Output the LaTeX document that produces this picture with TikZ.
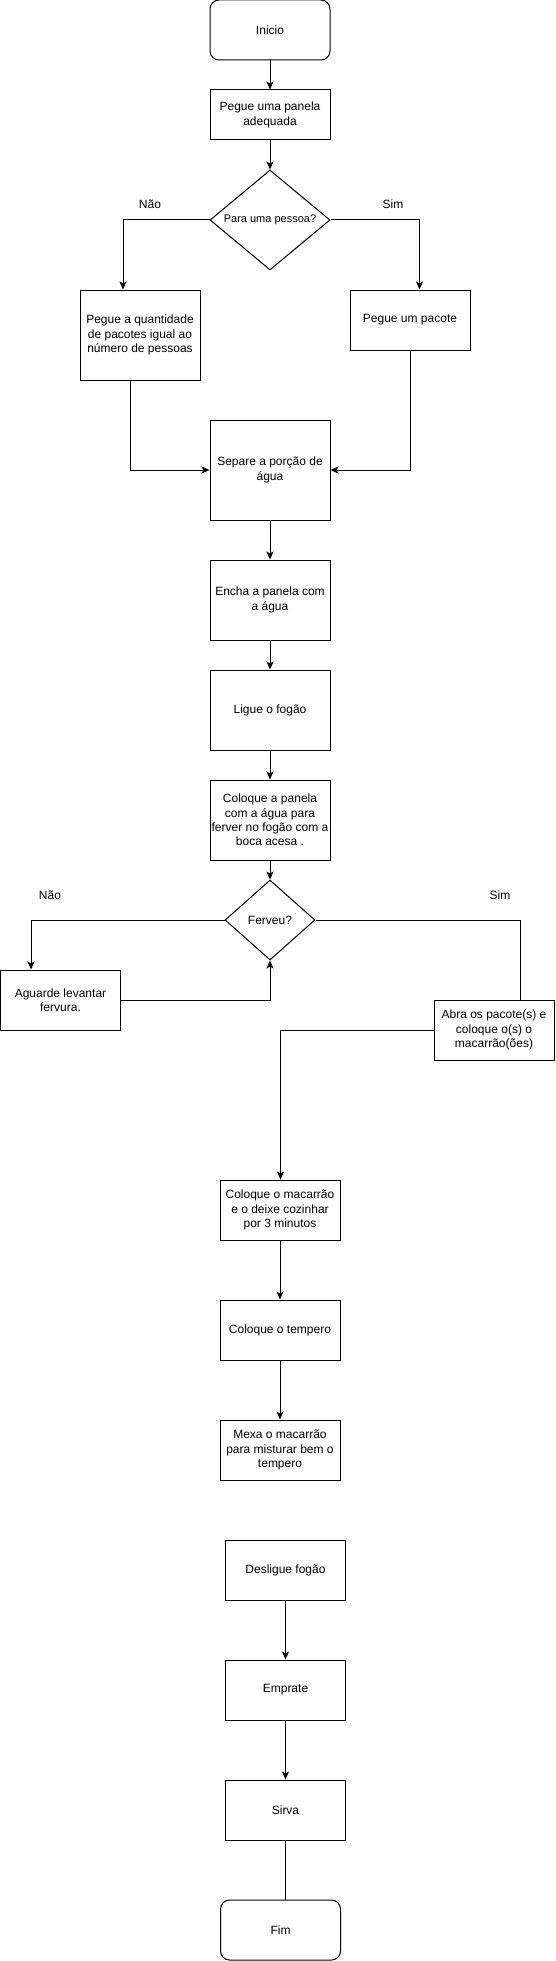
\documentclass[tikz,border=0pt]{standalone}
\usepackage{fontspec}
\setmainfont{Liberation Sans}
\usetikzlibrary{shapes.geometric,arrows.meta,positioning}

\begin{document}
\begin{tikzpicture}[x=1pt, y=-1pt, line width=1pt,
    font=\fontsize{12}{14.4}\selectfont,
    box/.style={draw, rectangle, minimum width=120pt, inner sep=0pt, align=center},
    term/.style={box, rounded corners=9pt, minimum height=60pt},
    decision/.style={draw, diamond, inner sep=0pt, shape aspect=1.2, align=center},
    arr/.style={-{Stealth[length=8pt,width=7pt,inset=2pt]}},
    lbl/.style={inner sep=0pt}]
    \useasboundingbox (0,0) rectangle (555,1961);

    % Start
    \node[term] (ini) at (270,30) {Inicio};
    \node[box, minimum height=50pt] (pan) at (270,115) {Pegue uma panela\\adequada};

    % First decision
    \node[decision, minimum width=120pt, minimum height=100pt, font=\fontsize{11}{13}\selectfont] (pes) at (270,220) {Para uma pessoa?};
    \node[lbl] (nao1) at (150,204) {Não};
    \node[lbl] (sim1) at (393,204) {Sim};
    \node[box, minimum height=90pt] (qtd) at (140,335) {Pegue a quantidade\\de pacotes igual ao\\número de pessoas};
    \node[box, minimum height=60pt] (pac) at (410,320) {Pegue um pacote};

    % Water
    \node[box, minimum height=100pt] (agu) at (270,470) {Separe a porção de\\água};
    \node[box, minimum height=80pt] (enc) at (270,600) {Encha a panela com\\a água};
    \node[box, minimum height=80pt] (fog) at (270,710) {Ligue o fogão};
    \node[box, minimum height=80pt] (fer) at (270,820) {Coloque a panela\\com a água para\\ferver no fogão com a\\boca acesa .};

    % Second decision
    \node[decision, minimum width=90pt, minimum height=80pt] (fvu) at (270,920) {Ferveu?};
    \node[lbl] (nao2) at (50,895) {Não};
    \node[lbl] (sim2) at (500,895) {Sim};
    \node[box, minimum height=60pt] (agd) at (60.5,1000) {Aguarde levantar\\fervura.};
    \node[box, minimum height=60pt] (abr) at (494,1030) {Abra os pacote(s) e\\coloque o(s) o\\macarrão(ões)};

    % Pasta
    \node[box, minimum height=60pt] (mac) at (280,1210) {Coloque o macarrão\\e o deixe cozinhar\\por 3 minutos};
    \node[box, minimum height=60pt] (tem) at (280,1330) {Coloque o tempero};
    \node[box, minimum height=60pt] (mex) at (280,1450) {Mexa o macarrão\\para misturar bem o\\tempero};

    % End
    \node[box, minimum height=60pt] (des) at (285.5,1570) {Desligue fogão};
    \node[box, minimum height=60pt] (emp) at (285.5,1690) {Emprate};
    \node[box, minimum height=60pt] (sir) at (285.5,1810) {Sirva};
    \node[term] (fim) at (280.5,1930) {Fim};

    % Connectors
    \draw[arr] (ini) -- (pan);
    \draw[arr] (pan) -- (pes);
    \draw[arr] (pes.west) -| ([xshift=-17pt]qtd.north);
    \draw[arr] (pes.east) -| ([xshift=9.5pt]pac.north);
    \draw[arr] ([xshift=-9.5pt]qtd.south) |- (agu.west);
    \draw[arr] ([xshift=0.5pt]pac.south) |- (agu.east);
    \draw[arr] (agu) -- (enc);
    \draw[arr] (enc) -- (fog);
    \draw[arr] (fog) -- (fer);
    \draw[arr] (fer) -- (fvu);
    \draw[arr] (fvu.west) -| ([xshift=-29.5pt]agd.north);
    \draw[arr] (agd.east) -| (fvu.south);
    \draw (fvu.east) -| ([xshift=26.5pt]abr.north);
    \draw[arr] (abr.west) -| ([xshift=0.5pt]mac.north);
    \draw[arr] (mac) -- (tem);
    \draw[arr] (tem) -- (mex);
    \draw[arr] (des) -- (emp);
    \draw[arr] (emp) -- (sir);
    \draw (sir.south) -- (sir.south |- fim.north);
\end{tikzpicture}
\end{document}
